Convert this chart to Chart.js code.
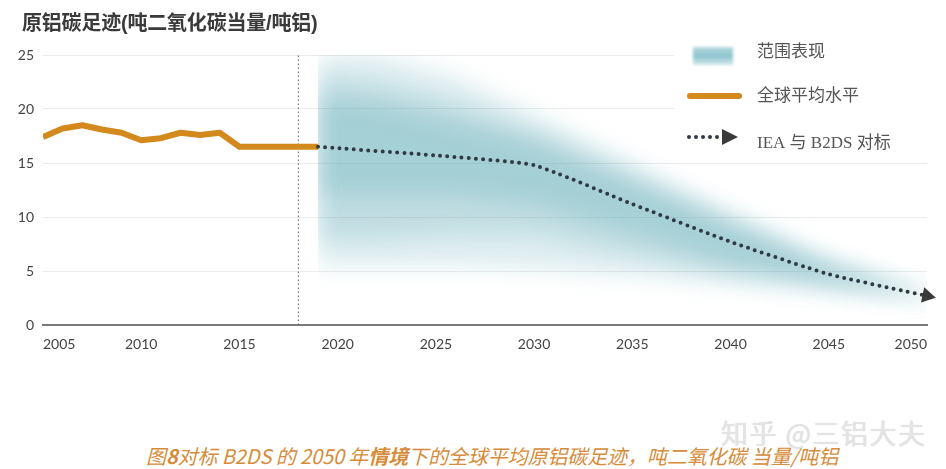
<!DOCTYPE html>
<html>
<head>
<meta charset="utf-8">
<script src="https://cdn.jsdelivr.net/npm/chart.js@4/dist/chart.umd.min.js"></script>
<style>
    body { margin: 0; background: #fff; }
    #wrap { position: relative; width: 946px; height: 469px; overflow: hidden; }
    #chart { position: absolute; left: 0; top: 0; }
    #title {
        position: absolute; left: 22px; top: 7px;
        font: bold 20px "Liberation Sans", "Noto Sans CJK SC", sans-serif;
        color: #3a3a3a; letter-spacing: -0.2px;
    }
    #caption {
        position: absolute; left: 146px; top: 441px;
        font: italic 20px "Noto Sans CJK SC", sans-serif;
        color: #d68c3a; white-space: nowrap; letter-spacing: -0.1px;
    }
    #caption b { font-weight: bold; }
    #mark {
        position: absolute; left: 721px; top: 413px;
        font: 27px "Noto Sans CJK SC", sans-serif;
        color: #e4e4e4; text-shadow: 0 0 1px #cfcfcf; white-space: nowrap;
        letter-spacing: 1.5px;
    }
</style>
</head>
<body>
<div id="wrap">
    <canvas id="chart" width="946" height="365"></canvas>
    <div id="title">原铝碳足迹(吨二氧化碳当量/吨铝)</div>
    <div id="mark">知乎 @三铝大夫</div>
    <div id="caption">图<b>8</b>对标 B2DS 的 2050 年<b>情境</b>下的全球平均原铝碳足迹，吨二氧化碳 当量/吨铝</div>
</div>
<script>
// x ticks
const yearTicks = [2005, 2010, 2015, 2020, 2025, 2030, 2035, 2040, 2045, 2050];

// global average (historical)
const histYears = [2005, 2006, 2007, 2008, 2009, 2010, 2011, 2012, 2013, 2014, 2015, 2016, 2017, 2018, 2019];
const histValues = [17.4, 18.2, 18.5, 18.1, 17.8, 17.1, 17.3, 17.8, 17.6, 17.8, 16.5, 16.5, 16.5, 16.5, 16.5];

// IEA / B2DS benchmark path
const ieaYears = [2019, 2025, 2030, 2035, 2040, 2045, 2050];
const ieaValues = [16.5, 15.7, 14.8, 11.2, 7.7, 4.7, 2.7];

// range shown as a soft band, three layers from wide to core
const bandYears = [2019, 2022, 2026, 2030, 2035, 2040, 2045, 2050];
const bandWideHi = [25, 25, 23, 19.5, 15, 10.5, 6, 2.9];
const bandWideLo = [5.5, 5.5, 5.5, 5.2, 4.6, 3.9, 3.2, 2.6];
const bandMidHi = [23, 22.5, 20.5, 18, 14, 9.8, 5.8, 2.9];
const bandMidLo = [8, 8, 8.5, 8.5, 6.5, 4.6, 3.6, 2.6];
const bandCoreHi = [21, 20.5, 18.8, 16.8, 13, 9.2, 5.5, 2.9];
const bandCoreLo = [12, 12, 12, 11.2, 8.6, 5.8, 4, 2.6];

// vertical divider year
const dividerYear = 2018;

const legendLabels = ["范围表现", "全球平均水平", "IEA 与 B2DS 对标"];

const ORANGE = "#d3891b";
const DOTS = "#2f3a44";

function pts(xs, ys) {
    return xs.map((x, i) => ({x: x, y: ys[i]}));
}

function bandPair(hi, lo, alpha, order) {
    return [{
        data: pts(bandYears, hi),
        fill: "+1",
        backgroundColor: "rgba(104,174,186," + alpha + ")",
        borderColor: "rgba(0,0,0,0)",
        borderWidth: 0,
        pointRadius: 0,
        order: order
    }, {
        data: pts(bandYears, lo),
        fill: false,
        borderColor: "rgba(0,0,0,0)",
        borderWidth: 0,
        pointRadius: 0,
        order: order
    }];
}

// blur the band fills and keep them right of the start year
function bandClip(chart) {
    const ctx = chart.ctx, a = chart.chartArea;
    const x0 = chart.scales.x.getPixelForValue(bandYears[0]);
    ctx.save();
    ctx.beginPath();
    ctx.rect(x0, a.top, a.right - x0 + 20, a.bottom - a.top);
    ctx.clip();
    ctx.filter = "blur(11px)";
}
const softBand = {
    id: "softBand",
    beforeDatasetsDraw(chart) { bandClip(chart); },
    beforeDatasetDraw(chart) { chart.ctx.restore(); },
    afterDatasetDraw(chart) { bandClip(chart); },
    afterDatasetsDraw(chart) { chart.ctx.restore(); }
};

// legend box top right
const customLegend = {
    id: "customLegend",
    afterDraw(chart) {
        const ctx = chart.ctx;
        ctx.save();
        ctx.fillStyle = "#fff";
        ctx.fillRect(674, 36, 262, 114);

        // band swatch
        ctx.save();
        ctx.filter = "blur(1.5px)";
        const g = ctx.createLinearGradient(0, 47, 0, 65);
        g.addColorStop(0, "rgba(150,200,208,0.7)");
        g.addColorStop(0.5, "rgba(140,195,205,1)");
        g.addColorStop(1, "rgba(175,215,222,0.6)");
        ctx.fillStyle = g;
        ctx.fillRect(693, 47, 40, 18);
        ctx.restore();

        // orange line
        ctx.strokeStyle = ORANGE;
        ctx.lineWidth = 6;
        ctx.lineCap = "round";
        ctx.beginPath();
        ctx.moveTo(690, 96);
        ctx.lineTo(739, 96);
        ctx.stroke();

        // dotted arrow
        ctx.strokeStyle = DOTS;
        ctx.lineWidth = 4;
        ctx.setLineDash([0, 7]);
        ctx.beginPath();
        ctx.moveTo(689, 137);
        ctx.lineTo(722, 137);
        ctx.stroke();
        ctx.setLineDash([]);
        ctx.fillStyle = "#3a3a3a";
        ctx.beginPath();
        ctx.moveTo(722, 129);
        ctx.lineTo(738, 137);
        ctx.lineTo(722, 145);
        ctx.closePath();
        ctx.fill();

        ctx.fillStyle = "#555";
        ctx.font = "17px 'Liberation Serif', 'Noto Sans CJK SC', serif";
        ctx.textBaseline = "middle";
        ctx.fillText(legendLabels[0], 757, 53);
        ctx.fillText(legendLabels[1], 757, 97);
        ctx.fillText(legendLabels[2], 757, 144);
        ctx.restore();
    }
};

const datasets = [].concat(
    bandPair(bandWideHi, bandWideLo, 0.22, 30),
    bandPair(bandMidHi, bandMidLo, 0.26, 20),
    bandPair(bandCoreHi, bandCoreLo, 0.3, 10),
    [{
        data: [{x: dividerYear, y: 0}, {x: dividerYear, y: 25}],
        borderColor: "#666",
        borderWidth: 1,
        borderDash: [1.5, 2.5],
        pointRadius: 0,
        fill: false,
        order: 5
    }, {
        data: pts(histYears, histValues),
        borderColor: ORANGE,
        borderWidth: 6,
        borderJoinStyle: "round",
        borderCapStyle: "butt",
        pointRadius: 0,
        fill: false,
        order: 2
    }, {
        data: pts(ieaYears, ieaValues),
        borderColor: DOTS,
        borderWidth: 4,
        borderDash: [0, 7.2],
        borderCapStyle: "round",
        tension: 0.15,
        pointStyle: "triangle",
        pointRadius: ieaYears.map((y, i) => i == ieaYears.length - 1 ? 9 : 0),
        pointRotation: 102,
        pointBackgroundColor: "#3a3a3a",
        pointBorderWidth: 0,
        fill: false,
        clip: 14,
        order: 1
    }]
);

new Chart("chart", {
    type: "line",
    data: { datasets: datasets },
    plugins: [softBand, customLegend],
    options: {
        responsive: false,
        animation: false,
        devicePixelRatio: 1,
        layout: { padding: { top: 55, right: 19, left: 0, bottom: 0 } },
        plugins: {
            legend: { display: false },
            tooltip: { enabled: false }
        },
        scales: {
            x: {
                type: "linear",
                min: 2005,
                max: 2050,
                afterBuildTicks: function(scale) {
                    scale.ticks = yearTicks.map(v => ({value: v}));
                },
                afterFit: function(scale) { scale.height = 40; },
                grid: { display: false, drawTicks: false },
                border: { display: true, color: "#7a7a7a", width: 2 },
                ticks: {
                    align: "inner",
                    maxRotation: 0,
                    padding: 11,
                    color: "#444",
                    font: { family: "Lato", size: 14 },
                    callback: v => String(v)
                }
            },
            y: {
                min: 0,
                max: 25,
                afterFit: function(scale) { scale.width = 43; },
                grid: { color: "#ebebeb", lineWidth: 1, drawTicks: false },
                border: { display: false },
                ticks: {
                    stepSize: 5,
                    padding: 9,
                    color: "#444",
                    font: { family: "Lato", size: 14 }
                }
            }
        }
    }
});
</script>
</body>
</html>
